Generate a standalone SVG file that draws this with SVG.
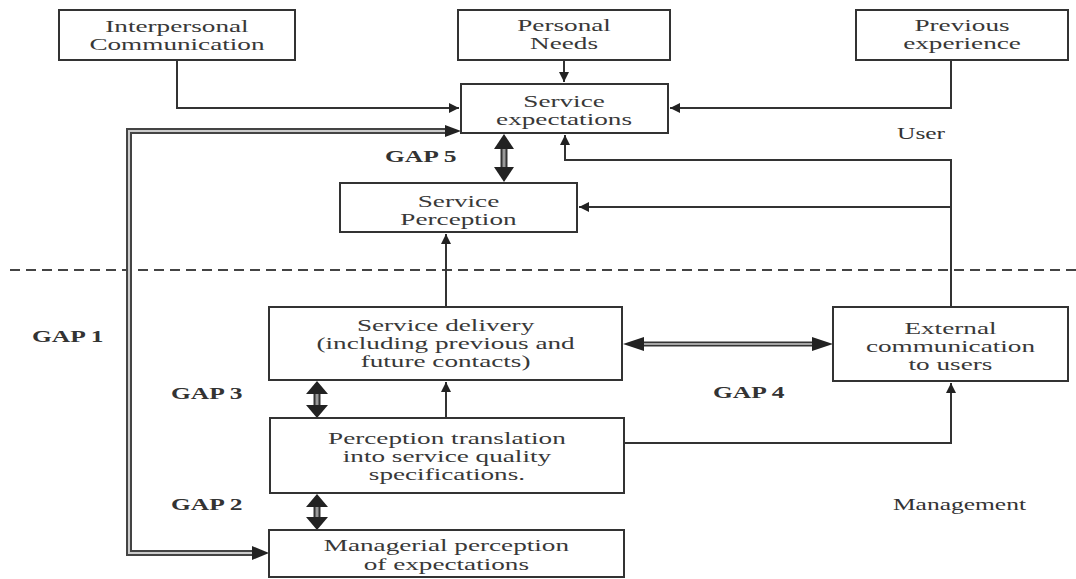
<svg xmlns="http://www.w3.org/2000/svg" width="1076" height="579" viewBox="0 0 1076 579">
<style>
.box{fill:#fff;stroke:#333;stroke-width:2}
.t{font-family:"Liberation Serif","Times New Roman",serif;font-size:16px;fill:#383838;text-anchor:middle}
.g{font-family:"Liberation Serif","Times New Roman",serif;font-size:17px;font-weight:bold;fill:#333}
.l{font-family:"Liberation Serif","Times New Roman",serif;font-size:17px;fill:#333}
.c{fill:none;stroke:#333;stroke-width:2}
.ah{fill:#222}
</style>
<defs>
<marker id="arr" viewBox="0 0 10 10" refX="10" refY="5" markerWidth="11" markerHeight="10" markerUnits="userSpaceOnUse" orient="auto">
<path d="M0 0 L10 5 L0 10 Z" fill="#222"/>
</marker>
</defs>
<rect width="1076" height="579" fill="#fff"/>
<line x1="10" y1="270" x2="1076" y2="270" stroke="#444" stroke-width="2" stroke-dasharray="10 6"/>
<g id="connectors">
<path class="c" d="M177 60 V108 H459" marker-end="url(#arr)"/>
<path class="c" d="M564 60 V82" marker-end="url(#arr)"/>
<path class="c" d="M951 60 V108 H670" marker-end="url(#arr)"/>
<path class="c" d="M951 307 V160 H565 V135" marker-end="url(#arr)"/>
<path class="c" d="M951 207 H579" marker-end="url(#arr)"/>
<path class="c" d="M446 307 V234" marker-end="url(#arr)"/>
<path class="c" d="M446 418 V382" marker-end="url(#arr)"/>
<path class="c" d="M624 443 H951 V383" marker-end="url(#arr)"/>
<path d="M448 131 H129 V553 H258" fill="none" stroke="#444" stroke-width="6"/>
<path d="M448 131 H129 V553 H258" fill="none" stroke="#ccc" stroke-width="2"/>
<polygon class="ah" points="461,131 445,125 445,137"/>
<polygon class="ah" points="269,553 252,546 252,560"/>
<line x1="504" y1="146" x2="504" y2="170" stroke="#333" stroke-width="7"/>
<line x1="504" y1="146" x2="504" y2="170" stroke="#999" stroke-width="3"/>
<polygon class="ah" points="504,134 494,149 514,149"/>
<polygon class="ah" points="504,182 494,167 514,167"/>
<line x1="317" y1="392" x2="317" y2="408" stroke="#333" stroke-width="7"/>
<line x1="317" y1="392" x2="317" y2="408" stroke="#999" stroke-width="3"/>
<polygon class="ah" points="317,381 306,394 328,394"/>
<polygon class="ah" points="317,418 306,405 328,405"/>
<line x1="317" y1="505" x2="317" y2="519" stroke="#333" stroke-width="7"/>
<line x1="317" y1="505" x2="317" y2="519" stroke="#999" stroke-width="3"/>
<polygon class="ah" points="317,494 306,507 328,507"/>
<polygon class="ah" points="317,530 306,517 328,517"/>
<line x1="640" y1="344" x2="816" y2="344" stroke="#333" stroke-width="5"/>
<line x1="640" y1="344" x2="816" y2="344" stroke="#ccc" stroke-width="1.5"/>
<polygon class="ah" points="623,344 644,337 644,351"/>
<polygon class="ah" points="833,344 812,337 812,351"/>
</g>
<g id="interpersonal">
<rect class="box" x="59" y="10" width="236" height="50"/>
<g transform="scale(1.7 1)"><text class="t" x="104.1" y="32">Interpersonal</text><text class="t" x="104.1" y="50">Communication</text></g>
</g>
<g id="personal-needs">
<rect class="box" x="458" y="10" width="212" height="50"/>
<g transform="scale(1.7 1)"><text class="t" x="331.8" y="31">Personal</text><text class="t" x="331.8" y="49">Needs</text></g>
</g>
<g id="previous-experience">
<rect class="box" x="856" y="10" width="212" height="50"/>
<g transform="scale(1.7 1)"><text class="t" x="565.9" y="31">Previous</text><text class="t" x="565.9" y="49">experience</text></g>
</g>
<g id="service-expectations">
<rect class="box" x="461" y="84" width="207" height="49"/>
<g transform="scale(1.7 1)"><text class="t" x="331.8" y="107">Service</text><text class="t" x="331.8" y="125">expectations</text></g>
</g>
<g id="service-perception">
<rect class="box" x="340" y="183" width="237" height="49"/>
<g transform="scale(1.7 1)"><text class="t" x="269.7" y="207">Service</text><text class="t" x="269.7" y="225">Perception</text></g>
</g>
<g id="service-delivery">
<rect class="box" x="269" y="307" width="353" height="73"/>
<g transform="scale(1.7 1)"><text class="t" x="262.1" y="331">Service delivery</text><text class="t" x="262.1" y="349">(including previous and</text><text class="t" x="262.1" y="367">future contacts)</text></g>
</g>
<g id="external-communication">
<rect class="box" x="833" y="307" width="235" height="74"/>
<g transform="scale(1.7 1)"><text class="t" x="559.1" y="334">External</text><text class="t" x="559.1" y="352">communication</text><text class="t" x="559.1" y="370">to users</text></g>
</g>
<g id="perception-translation">
<rect class="box" x="270" y="418" width="354" height="75"/>
<g transform="scale(1.7 1)"><text class="t" x="262.9" y="444">Perception translation</text><text class="t" x="262.9" y="462">into service quality</text><text class="t" x="262.9" y="480">specifications.</text></g>
</g>
<g id="managerial-perception">
<rect class="box" x="269" y="530" width="355" height="47"/>
<g transform="scale(1.7 1)"><text class="t" x="262.6" y="551">Managerial perception</text><text class="t" x="262.6" y="570">of expectations</text></g>
</g>
<g id="labels" transform="scale(1.5 1)">
<text class="g" x="256.7" y="162">GAP 5</text>
<text class="g" x="21.3" y="342">GAP 1</text>
<text class="g" x="114" y="399">GAP 3</text>
<text class="g" x="114" y="510">GAP 2</text>
<text class="g" x="475.3" y="398">GAP 4</text>
<text class="l" x="598" y="139">User</text>
<text class="l" x="595.3" y="510">Management</text>
</g>
</svg>
